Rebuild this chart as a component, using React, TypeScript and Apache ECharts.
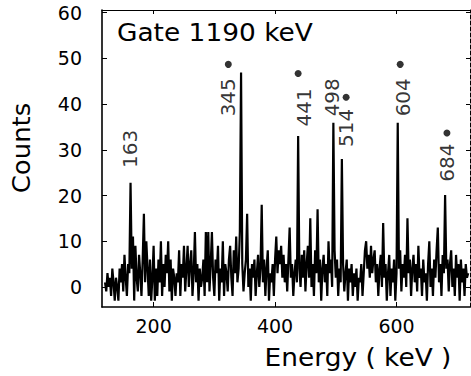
import React, { useEffect, useRef } from "react";
import * as echarts from "echarts";

const startKeV = 120;
const stepKeV = 2;
const counts: number[] = [
  1, -1, 3, 0, 2, -2, 4, 1, -3, 2,
  0, -3, 4, 1, 5, -1, 7, 2, -2, 5,
  3, 22.8, 4, 11, -3, 9, 2, -1, 7, 3,
  -2, 6, 16, 1, 10, 4, -2, 6, -3, 2,
  9, -3, 4, -2, 6, 1, 10, -2, 5, 0,
  7, 3, 10, -1, 6, -3, 4, 2, -2, 3,
  1, 8, -2, 5, 2, 9, -1, 4, 9, 0,
  5, 8, -2, 3, 12, 1, 5, -3, 4, 0,
  2, 6, -2, 12, 1, 12, -1, 5, 12, 2,
  -2, 6, 3, 9, -3, 4, 1, 10, -2, 5,
  3, -1, 6, 9, 2, -2, 8, 3, 11, 1,
  4, 12, 46.9, 5, -1, 3, 6, 16, 0, 4,
  -3, 5, 2, 6, -2, 3, 7, 0, 4, 18,
  1, 6, -2, 4, 8, -3, 3, 1, 5, -2,
  6, 11, 3, 8, 5, 9, 2, 7, 1, 5,
  -1, 6, 13, 2, 5, -2, 3, 6, 1, 33,
  4, 0, 7, 2, 8, -1, 5, 9, 2, 15,
  0, 5, -2, 8, 3, 17, 1, 6, -3, 4,
  7, 1, 5, -2, 10, 3, 6, 0, 35.9, 8,
  2, 6, -2, 4, 1, 28, 5, -1, 3, 6,
  -3, 4, 1, 5, -2, 3, 0, 4, -3, 2,
  1, 5, -2, 3, 8, 10, 4, 7, 2, 9,
  3, 6, 8, 1, 5, -2, 4, 7, 0, 14,
  2, 5, -3, 3, 7, -2, 4, 1, 6, -3,
  3, 35.9, 4, 8, -1, 5, 2, 7, 0, 15,
  3, 6, -2, 4, 7, 1, 5, -1, 9, 2,
  4, -2, 6, 1, 3, -3, 5, 10, 0, 4,
  -2, 6, 2, 8, 13, 1, 5, -2, 7, 3,
  20.1, 4, 6, -1, 5, 8, 0, 4, -2, 7,
  2, 5, -3, 6, 1, 4, -2, 5, 2, 3,
];

const yTicks = [0, 10, 20, 30, 40, 50, 60];
const xTicks = [200, 400, 600];

const peakLabels = ["163", "345", "441", "498", "514", "604", "684"];
const peakLabelX = [161, 323, 448, 494, 516, 611, 683];
const peakLabelY = [30.2, 41.5, 39.3, 41.5, 34.8, 41.5, 27.2];

const dotX = [323, 438, 517, 606, 683];
const dotY = [48.7, 46.7, 41.5, 48.7, 33.7];

const FONT = "DejaVu Sans";

export default function App() {
  const ref = useRef<HTMLDivElement>(null);
  useEffect(() => {
    if (!ref.current) return;
    const chart = echarts.init(ref.current, undefined, { renderer: "svg" });
    const lineData = counts.map((v, i) => [startKeV + i * stepKeV, v]);
    const labelData = peakLabels.map((n, i) => ({ name: n, value: [peakLabelX[i], peakLabelY[i]] }));
    const dotData = dotX.map((x, i) => [x, dotY[i]]);
    const axisLine = { show: true, onZero: false, lineStyle: { color: "#000", width: 1.6 } };
    chart.setOption({
      animation: false,
      backgroundColor: "#fff",
      grid: { left: 102, top: 10, width: 368, height: 297, containLabel: false },
      xAxis: [
        {
          type: "value",
          min: 115,
          max: 721,
          position: "bottom",
          axisLine,
          splitLine: { show: false },
          axisTick: { inside: true, length: 5, customValues: xTicks, lineStyle: { color: "#000" } },
          axisLabel: {
            customValues: xTicks,
            color: "#000",
            fontFamily: FONT,
            fontSize: 19,
            margin: 9,
          },
        },
        {
          type: "value",
          min: 115,
          max: 721,
          position: "top",
          axisLine: { show: true, onZero: false, lineStyle: { color: "#000", width: 1.2 } },
          splitLine: { show: false },
          axisTick: { inside: true, length: 4, customValues: xTicks, lineStyle: { color: "#000" } },
          axisLabel: { show: false },
        },
      ],
      yAxis: [
        {
          type: "value",
          min: -4.4,
          max: 60.6,
          axisLine,
          splitLine: { show: false },
          axisTick: { inside: true, length: 5, customValues: yTicks, lineStyle: { color: "#000" } },
          axisLabel: {
            customValues: yTicks,
            color: "#000",
            fontFamily: FONT,
            fontSize: 19,
            margin: 20,
          },
        },
        {
          type: "value",
          min: -4.4,
          max: 60.6,
          position: "right",
          axisLine: { show: true, onZero: false, lineStyle: { color: "#000", width: 1, type: "dashed" } },
          splitLine: { show: false },
          axisTick: { inside: true, length: 4, customValues: yTicks, lineStyle: { color: "#000" } },
          axisLabel: { show: false },
        },
      ],
      series: [
        {
          type: "line",
          data: lineData,
          symbol: "none",
          lineStyle: { color: "#000", width: 2.2 },
          silent: true,
          clip: true,
        },
        {
          type: "scatter",
          data: dotData,
          symbol: "circle",
          symbolSize: 7,
          itemStyle: { color: "#000" },
        },
        {
          type: "scatter",
          data: labelData,
          symbolSize: 0,
          label: {
            show: true,
            position: "inside",
            rotate: 90,
            formatter: "{b}",
            color: "#000",
            fontFamily: FONT,
            fontSize: 20,
          },
        },
      ],
      graphic: [
        {
          type: "text",
          x: 117,
          y: 33,
          scaleX: 1.1,
          style: {
            text: "Gate 1190 keV",
            fill: "#000",
            font: `24px "${FONT}"`,
            verticalAlign: "middle",
          },
        },
        {
          type: "text",
          x: 22,
          y: 148,
          rotation: Math.PI / 2,
          scaleX: 1.08,
          style: {
            text: "Counts",
            fill: "#000",
            font: `24px "${FONT}"`,
            align: "center",
            verticalAlign: "middle",
          },
        },
        {
          type: "text",
          x: 358,
          y: 358,
          scaleX: 1.1,
          style: {
            text: "Energy ( keV )",
            fill: "#000",
            font: `24px "${FONT}"`,
            align: "center",
            verticalAlign: "middle",
          },
        },
      ],
    });
    return () => chart.dispose();
  }, []);
  return (
    <div
      ref={ref}
      style={{ position: "fixed", left: 0, top: 0, width: 471, height: 376, background: "#fff" }}
    />
  );
}
